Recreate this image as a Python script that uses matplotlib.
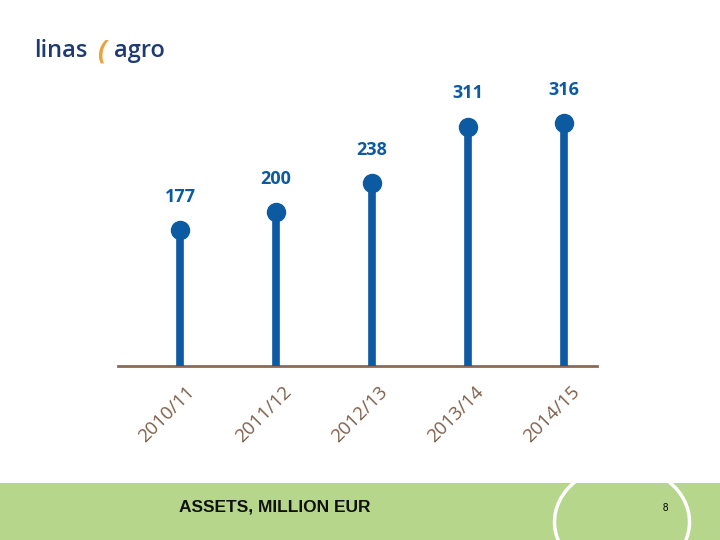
import matplotlib
matplotlib.use("Agg")
import matplotlib.pyplot as plt
from matplotlib.patches import Rectangle, Ellipse
import matplotlib.transforms as mtransforms

# data
periods = ["2010/11", "2011/12", "2012/13", "2013/14", "2014/15"]
assets = [177, 200, 238, 311, 316]

blue = "#0B5AA2"
brown = "#7E5F48"
green = "#B6D68B"

fig = plt.figure(figsize=(7.2, 5.4), dpi=100)

# green footer band
fig.patches.append(Rectangle((0, 0), 1, 57 / 540, transform=fig.transFigure,
                             facecolor=green, edgecolor="none", zorder=0))
# white ring from the leaf emblem
fig.patches.append(Ellipse((622 / 720, 1 - 522 / 540), 135 / 720, 112 / 540,
                           transform=fig.transFigure, facecolor="none",
                           edgecolor="white", linewidth=2.5, zorder=1))
fig.text(275 / 720, 1 - 507 / 540, "ASSETS, MILLION EUR", ha="center", va="center",
         fontsize=12.5, fontweight="bold", color="#111111",
         family=["Liberation Sans", "DejaVu Sans"])
fig.text(665 / 720, 1 - 508 / 540, "8", ha="center", va="center", fontsize=7,
         color="black", family=["Liberation Sans", "DejaVu Sans"])

# logo
fig.text(34 / 720, 1 - 51 / 540, "linas", ha="left", va="center", fontsize=17,
         fontweight="semibold", color="#1E3A73", family=["Open Sans", "DejaVu Sans"])
fig.text(97 / 720, 1 - 51 / 540, "(", ha="left", va="center", fontsize=19,
         fontweight="bold", color="#E8A33A", family=["Open Sans", "DejaVu Sans"],
         style="italic")
fig.text(114 / 720, 1 - 51 / 540, "agro", ha="left", va="center", fontsize=17,
         fontweight="semibold", color="#1E3A73", family=["Open Sans", "DejaVu Sans"])

ax = fig.add_axes([118 / 720, 1 - 366 / 540, (597 - 118) / 720, 300 / 540])
x = list(range(len(assets)))
ax.vlines(x, 0, assets, color=blue, linewidth=5.5, zorder=2)
ax.plot(x, assets, "o", color=blue, markersize=13, zorder=3)
for xi, v in zip(x, assets):
    ax.annotate(str(v), (xi, v), xytext=(0, 24), textcoords="offset points",
                ha="center", va="center", fontsize=13, fontweight="bold",
                color=blue, family=["Open Sans", "DejaVu Sans"])

ax.set_xlim(-0.646, 4.34)
ax.set_ylim(0, 390)
ax.axhline(0, color="#8B6A55", linewidth=2, zorder=1, clip_on=False)
for s in ax.spines.values():
    s.set_visible(False)
ax.set_yticks([])
ax.set_xticks(x)
ax.set_xticklabels(periods, rotation=45, ha="right", rotation_mode="anchor",
                   fontsize=13.5, color=brown,
                   family=["Open Sans", "DejaVu Sans"])
ax.tick_params(axis="x", length=0, pad=12)
shift = mtransforms.ScaledTranslation(6 / 100, 0, fig.dpi_scale_trans)
for lbl in ax.get_xticklabels():
    lbl.set_transform(lbl.get_transform() + shift)

fig.savefig("out.png", dpi=100)
